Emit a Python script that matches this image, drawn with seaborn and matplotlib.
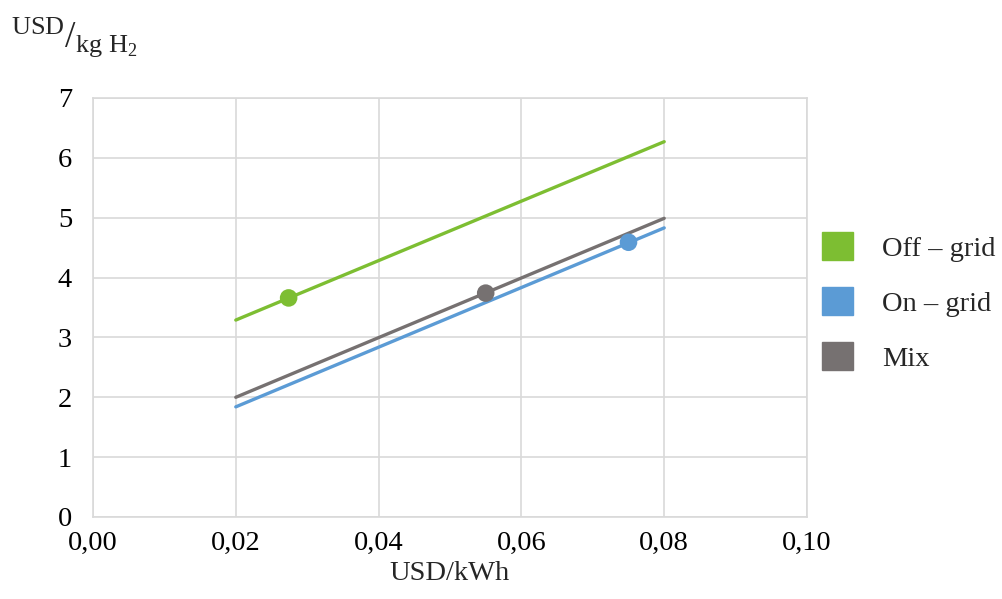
import matplotlib
matplotlib.use("Agg")
import matplotlib.pyplot as plt
from matplotlib.patches import Patch
import seaborn as sns
import pandas as pd
import numpy as np

# ---- data ----
series = ["Off – grid", "On – grid", "Mix"]
line_x = [0.02, 0.08]
off_grid_y = [3.29, 6.27]
on_grid_y = [1.84, 4.83]
mix_y = [2.0, 4.99]
point_x = [0.0274, 0.075, 0.055]
point_y = [3.66, 4.59, 3.74]
x_ticks = [0.00, 0.02, 0.04, 0.06, 0.08, 0.10]
x_tick_labels = ["0,00", "0,02", "0,04", "0,06", "0,08", "0,10"]
y_ticks = [0, 1, 2, 3, 4, 5, 6, 7]
x_label = "USD/kWh"

colors = {"Off – grid": "#7DBE32", "On – grid": "#5B9BD5", "Mix": "#767171"}

lines_df = pd.DataFrame({
    "x": line_x * 3,
    "y": off_grid_y + on_grid_y + mix_y,
    "series": [s for s in series for _ in line_x],
})
points_df = pd.DataFrame({"x": point_x, "y": point_y, "series": series})

sns.set_theme(style="white")
plt.rcParams["font.family"] = ["Liberation Serif", "DejaVu Serif"]
plt.rcParams["mathtext.fontset"] = "custom"
plt.rcParams["mathtext.rm"] = "Liberation Serif"
plt.rcParams["mathtext.it"] = "Liberation Serif:italic"

fig = plt.figure(figsize=(10.03, 5.99), dpi=100)
ax = fig.add_axes([0.0927, 0.1369, 0.7119, 0.6995])

sns.lineplot(data=lines_df, x="x", y="y", hue="series", palette=colors,
             linewidth=2.4, legend=False, ax=ax, zorder=3)
sns.scatterplot(data=points_df, x="x", y="y", hue="series", palette=colors,
                s=160, linewidth=0, legend=False, ax=ax, zorder=4)

ax.set_xlim(0, 0.10)
ax.set_ylim(0, 7)
ax.set_xticks(x_ticks)
ax.set_xticklabels(x_tick_labels)
ax.set_yticks(y_ticks)
ax.grid(True, color="#D9D9D9", linewidth=1.2)
for sp in ax.spines.values():
    sp.set_color("#D9D9D9")
    sp.set_linewidth(1.2)
ax.tick_params(axis="x", labelsize=20.5, colors="black", length=0, pad=10)
ax.tick_params(axis="y", labelsize=20.5, colors="black", length=0, pad=15)
ax.set_xlabel(x_label, fontsize=20.5, labelpad=4)
ax.set_ylabel("")

fig.text(0.011, 0.922, r"$^{\rm USD}/_{\rm kg\ H_2}$", fontsize=27, ha="left", va="baseline")

handles = [Patch(facecolor=colors[s], edgecolor=colors[s]) for s in series]
fig.legend(handles, series, loc="center left", bbox_to_anchor=(0.794, 0.496),
           frameon=False, fontsize=20.5, handlelength=1.1, handleheight=1.1,
           labelspacing=0.9, handletextpad=1.0)

fig.savefig("out.png", dpi=100)
